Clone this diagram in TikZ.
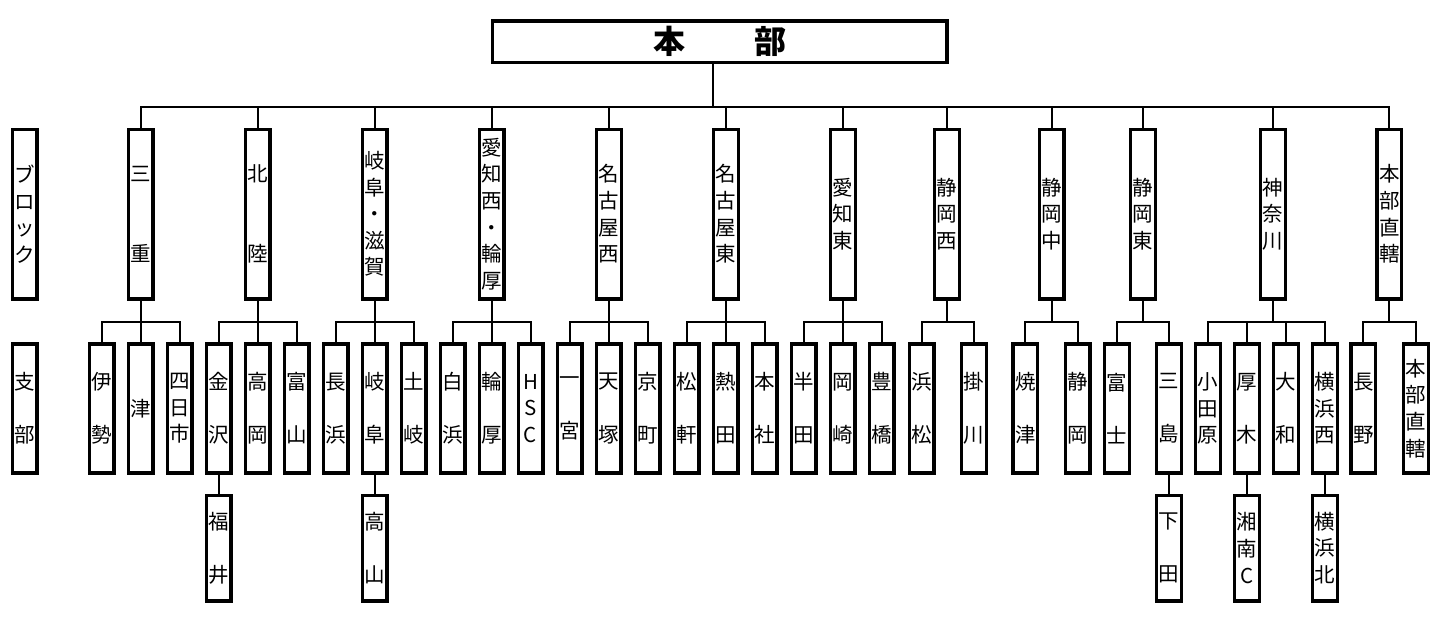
\documentclass[tikz,border=0pt]{standalone}
\usepackage{fontspec}
\newfontfamily\jp{Noto Sans CJK JP}
\newcommand\emptyrow{\mbox{}}
\begin{document}
\begin{tikzpicture}[x=1pt,y=-1pt,
  box/.style={draw, line width=3.3pt, inner sep=0pt, minimum width=24.7pt,
    font=\jp\fontsize{20.5}{26.6}\selectfont, align=center},
  blk/.style={box, minimum height=169.7pt},
  brn/.style={box, minimum height=129pt},
  sbr/.style={box, minimum height=105.7pt},
  conn/.style={line width=2pt}]
\useasboundingbox (0,0) rectangle (1439,616);
% headquarters
\node[draw, line width=3.3pt, inner sep=0pt, minimum width=454.3pt, minimum height=41.4pt,
  font=\jp\bfseries\fontsize{32}{32}\selectfont] (hq) at (719.8,41.6) {本\hspace{69pt}部};
% row labels
\node[blk] (lblk) at (24.5,214) {ブ\\ロ\\ッ\\ク};
\node[brn] (lbrn) at (24.5,408.4) {支\\\emptyrow\\部};
% blocks
\node[blk] (b1) at (140.7,214) {三\\\emptyrow\\\emptyrow\\重};
\node[blk] (b2) at (257.6,214) {北\\\emptyrow\\\emptyrow\\陸};
\node[blk] (b3) at (374.6,214) {岐\\阜\\・\\滋\\賀};
\node[blk] (b4) at (491.7,214) {愛\\知\\西\\・\\輪\\厚};
\node[blk] (b5) at (608.8,214) {名\\古\\屋\\西};
\node[blk] (b6) at (725.8,214) {名\\古\\屋\\東};
\node[blk] (b7) at (843,214) {愛\\知\\東};
\node[blk] (b8) at (946.8,214) {静\\岡\\西};
\node[blk] (b9) at (1051.6,214) {静\\岡\\中};
\node[blk] (b10) at (1143,214) {静\\岡\\東};
\node[blk] (b11) at (1273,214) {神\\奈\\川};
\node[blk] (b12) at (1389.3,214) {本\\部\\直\\轄};
% branches
\node[brn] (s1) at (101.5,408.4) {伊\\\emptyrow\\勢};
\node[brn] (s2) at (140.5,408.4) {津};
\node[brn] (s3) at (179.5,408.4) {四\\日\\市};
\node[brn] (s4) at (218.5,408.4) {金\\\emptyrow\\沢};
\node[brn] (s5) at (257.5,408.4) {高\\\emptyrow\\岡};
\node[brn] (s6) at (296.5,408.4) {富\\\emptyrow\\山};
\node[brn] (s7) at (335.5,408.4) {長\\\emptyrow\\浜};
\node[brn] (s8) at (374.5,408.4) {岐\\\emptyrow\\阜};
\node[brn] (s9) at (413.5,408.4) {土\\\emptyrow\\岐};
\node[brn] (s10) at (452.5,408.4) {白\\\emptyrow\\浜};
\node[brn] (s11) at (491.5,408.4) {輪\\\emptyrow\\厚};
\node[brn] (s12) at (530.5,408.4) {H\\S\\C};
\node[brn] (s13) at (569.5,408.4) {一\\\emptyrow\\宮};
\node[brn] (s14) at (608.5,408.4) {天\\\emptyrow\\塚};
\node[brn] (s15) at (647.5,408.4) {京\\\emptyrow\\町};
\node[brn] (s16) at (686.5,408.4) {松\\\emptyrow\\軒};
\node[brn] (s17) at (725.5,408.4) {熱\\\emptyrow\\田};
\node[brn] (s18) at (764.5,408.4) {本\\\emptyrow\\社};
\node[brn] (s19) at (803.5,408.4) {半\\\emptyrow\\田};
\node[brn] (s20) at (842.5,408.4) {岡\\\emptyrow\\崎};
\node[brn] (s21) at (881.5,408.4) {豊\\\emptyrow\\橋};
\node[brn] (s22) at (921.5,408.4) {浜\\\emptyrow\\松};
\node[brn] (s23) at (973.8,408.4) {掛\\\emptyrow\\川};
\node[brn] (s24) at (1025.3,408.4) {焼\\\emptyrow\\津};
\node[brn] (s25) at (1077.6,408.4) {静\\\emptyrow\\岡};
\node[brn] (s26) at (1117,408.4) {富\\\emptyrow\\士};
\node[brn] (s27) at (1169,408.4) {三\\\emptyrow\\島};
\node[brn] (s28) at (1208,408.4) {小\\田\\原};
\node[brn] (s29) at (1247,408.4) {厚\\\emptyrow\\木};
\node[brn] (s30) at (1286,408.4) {大\\\emptyrow\\和};
\node[brn] (s31) at (1325,408.4) {横\\浜\\西};
\node[brn] (s32) at (1363.4,408.4) {長\\\emptyrow\\野};
\node[brn] (s33) at (1415.8,408.4) {本\\部\\直\\轄};
% second-level branches
\node[sbr] (t1) at (218.5,548) {福\\\emptyrow\\井};
\node[sbr] (t2) at (374.5,548) {高\\\emptyrow\\山};
\node[sbr] (t3) at (1169,548) {下\\\emptyrow\\田};
\node[sbr] (t4) at (1247,548) {湘\\南\\C};
\node[sbr] (t5) at (1325,548) {横\\浜\\北};
% helper coordinates
\coordinate (hqX) at (713,0);
\coordinate (busY) at (0,106.5);
\coordinate (subY) at (0,321.7);
% connectors: headquarters to blocks
\draw[conn] (hqX |- hq.south) -- (hqX |- busY);
\draw[conn] (b1.north) -- (b1.north |- busY) -- (b12.north |- busY) -- (b12.north);
\foreach \b in {b2,b3,b4,b5,b6,b7,b8,b9,b10,b11}
  \draw[conn] (\b.north) -- (\b.north |- busY);
% blocks to branches
\foreach \b/\f/\l/\m in {b1/s1/s3/{s2},b2/s4/s6/{s5},b3/s7/s9/{s8},b4/s10/s12/{s11},
  b5/s13/s15/{s14},b6/s16/s18/{s17},b7/s19/s21/{s20},b8/s22/s23/{},b9/s24/s25/{},
  b10/s26/s27/{},b11/s28/s31/{s29,s30},b12/s32/s33/{}}{
  \draw[conn] (\b.south) -- (\b.south |- subY);
  \draw[conn] (\f.north) -- (\f.north |- subY) -- (\l.north |- subY) -- (\l.north);
  \foreach \s in \m { \draw[conn] (\s.north) -- (\s.north |- subY); }
}
% branches to second-level branches
\foreach \a/\c in {s4/t1,s8/t2,s27/t3,s29/t4,s31/t5}
  \draw[conn] (\a.south) -- (\c.north);
\end{tikzpicture}
\end{document}
